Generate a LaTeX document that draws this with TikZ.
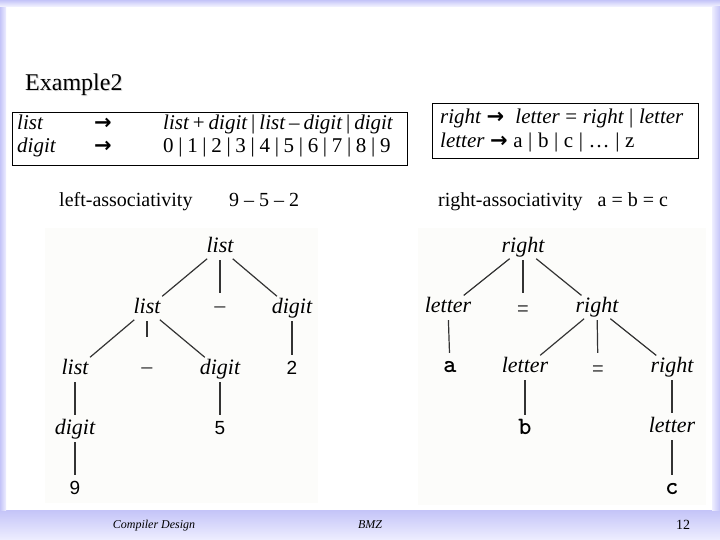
\documentclass[tikz,border=0pt]{standalone}
\usepackage{fontspec}
\setmainfont{Liberation Serif}
\newfontfamily\sansf{Liberation Sans}
\newfontfamily\arrf{DejaVu Sans}
\definecolor{frameA}{RGB}{196,196,248}
\definecolor{frameB}{RGB}{238,238,255}
\definecolor{scanbg}{RGB}{252,252,250}
\newcommand\tightsp{\spaceskip 4pt plus 1pt\relax}
\newcommand\midsp{\spaceskip 4.7pt plus 1pt\relax}
\newcommand\widesp{\spaceskip 5.6pt plus 1pt\relax}
\begin{document}
\begin{tikzpicture}[x=1pt,y=-1pt,
  hdr/.style={anchor=base west, inner sep=0pt, font=\fontsize{21}{25}\selectfont\tightsp},
  hdri/.style={hdr, font=\fontsize{21}{25}\selectfont\itshape\tightsp},
  captxt/.style={anchor=base west, inner sep=0pt, font=\fontsize{20}{24}\selectfont},
  nt/.style={inner xsep=1pt, inner ysep=0pt, text height=12pt, text depth=4pt, font=\fontsize{22}{22}\selectfont\itshape},
  dg/.style={nt, font=\fontsize{19}{19}\sansf},
  lt/.style={nt, font=\ttfamily\fontsize{25}{25}\selectfont\bfseries},
  op/.style={anchor=base, inner sep=0pt, text height=7pt, text depth=0pt, font=\fontsize{20}{20}\sansf\color{black!75}},
  edge/.style={draw=black!80, line width=1.2pt, shorten <=4pt, shorten >=7pt},
  opedge/.style={edge, shorten >=12pt},
  foot/.style={inner sep=0pt, anchor=base, font=\fontsize{12}{12}\selectfont\itshape}]
\useasboundingbox (0,0) rectangle (720,540);
\fill[white] (0,0) rectangle (720,540);
% slide frame
\shade[top color=frameA, bottom color=frameB] (0,510) rectangle (720,540);
\shade[left color=frameA, right color=frameB] (0,7) rectangle (6,510);
\shade[top color=frameA, bottom color=frameB!50!white] (0,0) rectangle (720,7);
\shade[left color=frameB, right color=frameA] (712,7) rectangle (720,510);
% scanned areas
\fill[scanbg] (45,228) rectangle (318,503);
\fill[scanbg] (418,228) rectangle (706,505);

% title
\node[anchor=base west, inner sep=0pt, text=black!15] at (26,92) {\fontsize{24}{24}\selectfont Example2};
\node[anchor=base west, inner sep=0pt] (title) at (25,91) {\fontsize{24}{24}\selectfont Example2};

% left grammar box
\node[draw=black, line width=0.8pt, minimum width=395pt, minimum height=53pt, anchor=north west, inner sep=0pt] (lbox) at (12,112) {};
\node[hdri] (g1a) at (17,130) {list};
\node[hdr] (g1b) at (94,130) {\arrf\bfseries →};
\node[hdri] (g1c) at (163,130) {list {\upshape+} digit {\upshape|} list {\upshape–} digit {\upshape|} digit};
\node[hdri] (g2a) at (17,153) {digit};
\node[hdr] (g2b) at (94,153) {\arrf\bfseries →};
\node[hdr] (g2c) at (163,153) {\midsp 0 | 1 | 2 | 3 | 4 | 5 | 6 | 7 | 8 | 9};

% right grammar box
\node[draw=black, line width=0.8pt, minimum width=266pt, minimum height=55pt, anchor=north west, inner sep=0pt] (rbox) at (432,103) {};
\node[hdri] (h1a) at (440,124) {\widesp right {\upshape\arrf\bfseries →}\ \ letter {\upshape=} right {\upshape|} letter};
\node[hdri] (h2a) at (440,148) {\widesp letter {\upshape\arrf\bfseries →} \upshape a | b | c | … | z};

% captions
\node[captxt] (capL) at (59,207) {left-associativity};
\node[captxt] (capL2) at (229,207) {9 – 5 – 2};
\node[captxt] (capR) at (438,207) {right-associativity\ \ \ a = b = c};

% left parse tree
\node[nt] (L1) at (220,248) {list};
\node[nt] (L2) at (147,309) {list};
\node[op] (Lm1) at (220,312) {–};
\node[nt] (Ld1) at (292,309) {digit};
\node[nt] (L3) at (75,370) {list};
\node[op] (Lm2) at (147,373) {–};
\node[nt] (Ld2) at (220,370) {digit};
\node[dg] (L2n) at (292,370) {2};
\node[nt] (Ld3) at (75,430) {digit};
\node[dg] (L5) at (220,430) {5};
\node[dg] (L9) at (75,490) {9};
\draw[edge] (L1) -- (L2);
\draw[opedge] (L1) -- (Lm1);
\draw[edge] (L1) -- (Ld1);
\draw[edge] (L2) -- (L3);
\draw[opedge, shorten >=29pt] (L2) -- (Lm2);
\draw[edge] (L2) -- (Ld2);
\draw[edge] (Ld1) -- (L2n);
\draw[edge] (L3) -- (Ld3);
\draw[edge] (Ld2) -- (L5);
\draw[edge] (Ld3) -- (L9);

% right parse tree
\node[nt] (R1) at (523,248) {right};
\node[nt] (Rl1) at (448,308) {letter};
\node[op] (Re1) at (523,315) {=};
\node[nt] (R2) at (597,308) {right};
\node[lt] (Ra) at (450,368) {a};
\node[nt] (Rl2) at (525,368) {letter};
\node[op] (Re2) at (598,375) {=};
\node[nt] (R3) at (672,368) {right};
\node[lt] (Rb) at (525,430) {b};
\node[nt] (Rl3) at (672,428) {letter};
\node[lt] (Rc) at (672,490) {c};
\draw[edge] (R1) -- (Rl1);
\draw[opedge, shorten >=15pt] (R1) -- (Re1);
\draw[edge] (R1) -- (R2);
\draw[edge] (Rl1) -- (Ra);
\draw[edge] (R2) -- (Rl2);
\draw[opedge, shorten >=15pt] (R2) -- (Re2);
\draw[edge] (R2) -- (R3);
\draw[edge] (Rl2) -- (Rb);
\draw[edge] (R3) -- (Rl3);
\draw[edge] (Rl3) -- (Rc);

% footer
\node[foot] (f1) at (154,528) {Compiler Design};
\node[foot] (f2) at (370,528) {BMZ};
\node[inner sep=0pt, anchor=base, font=\fontsize{14}{14}\selectfont] (f3) at (683,529) {12};
\end{tikzpicture}
\end{document}
